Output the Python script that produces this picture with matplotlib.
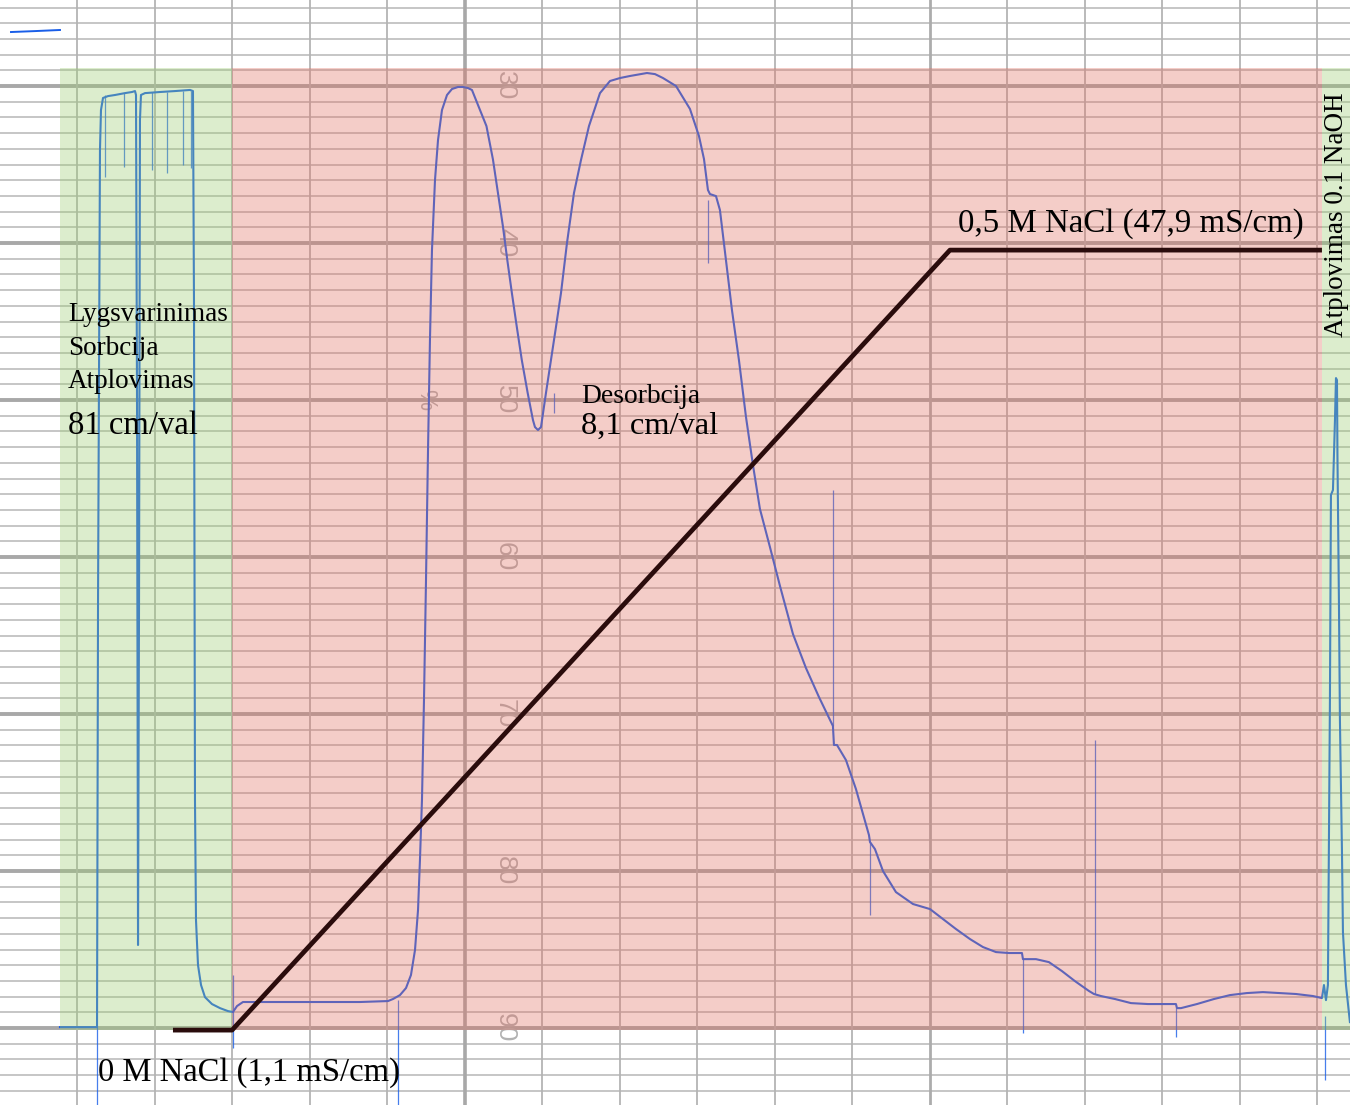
import matplotlib
matplotlib.use("Agg")
import matplotlib.pyplot as plt
from matplotlib.patches import Rectangle
from matplotlib.transforms import Affine2D

# Recorder paper: x in chart divisions, y in recorder percent (30 at top, 90 at bottom)
X_MAX = 17.42
Y_TOP, Y_BOTTOM = 24.52, 94.9

# UV trace (divisions, percent)
trace_x = [0.774, 1.252, 1.265, 1.290, 1.303, 1.329, 1.394, 1.484, 1.613, 1.703,
           1.742, 1.755, 1.768, 1.781, 1.794, 1.806, 1.819, 1.871, 2.065, 2.258,
           2.452, 2.490, 2.503, 2.516, 2.529, 2.555, 2.594, 2.645, 2.735, 2.839,
           2.942, 3.006, 3.058, 3.135, 3.871, 4.645, 5.006, 5.071, 5.161, 5.239,
           5.303, 5.355, 5.394, 5.419, 5.445, 5.471, 5.497, 5.523, 5.548, 5.574,
           5.613, 5.652, 5.703, 5.768, 5.832, 5.910, 5.974, 6.039, 6.090, 6.168,
           6.277, 6.361, 6.426, 6.490, 6.546, 6.605, 6.668, 6.733, 6.809, 6.877,
           6.903, 6.942, 6.981, 7.045, 7.110, 7.174, 7.239, 7.316, 7.406, 7.497,
           7.600, 7.742, 7.871, 8.000, 8.129, 8.348, 8.452, 8.555, 8.723, 8.903,
           9.019, 9.084, 9.135, 9.161, 9.239, 9.290, 9.368, 9.445, 9.535, 9.626,
           9.716, 9.806, 9.935, 10.065, 10.232, 10.400, 10.568, 10.748, 10.761, 10.800,
           10.916, 11.045, 11.213, 11.226, 11.290, 11.394, 11.561, 11.781, 12.000, 12.168,
           12.335, 12.516, 12.684, 12.852, 13.019, 13.187, 13.200, 13.368, 13.535, 13.703,
           13.871, 14.052, 14.116, 14.206, 14.387, 14.594, 14.813, 15.174, 15.187, 15.239,
           15.445, 15.665, 15.871, 16.090, 16.297, 16.516, 16.723, 16.942, 17.058, 17.084,
           17.110, 17.135, 17.161, 17.174, 17.200, 17.226, 17.239, 17.252, 17.258, 17.277,
           17.290, 17.316, 17.329, 17.368, 17.419]
trace_y = [89.94, 89.94, 62.74, 34.08, 31.53, 30.76, 30.64, 30.57, 30.45, 30.38,
           30.32, 30.57, 50.00, 84.71, 62.74, 32.17, 30.57, 30.45, 30.38, 30.32,
           30.25, 30.32, 43.63, 75.48, 83.12, 85.99, 87.26, 88.03, 88.47, 88.73,
           88.92, 88.98, 88.60, 88.34, 88.34, 88.34, 88.28, 88.15, 87.90, 87.45,
           86.62, 85.03, 82.48, 79.30, 75.48, 69.11, 61.46, 53.18, 46.18, 40.45,
           35.99, 33.44, 31.53, 30.57, 30.19, 30.06, 30.06, 30.13, 30.25, 31.21,
           32.55, 34.68, 36.82, 38.95, 41.08, 43.18, 45.32, 47.45, 49.55, 51.27,
           51.72, 51.91, 51.72, 49.55, 47.45, 45.35, 43.18, 40.00, 36.82, 34.71,
           32.55, 30.45, 29.68, 29.49, 29.36, 29.17, 29.24, 29.49, 30.00, 31.46,
           33.18, 34.65, 36.62, 36.88, 37.01, 37.90, 41.08, 44.27, 47.45, 51.08,
           54.14, 56.94, 59.36, 61.85, 64.90, 67.07, 68.92, 70.76, 71.97, 71.97,
           72.93, 74.78, 77.71, 78.15, 78.60, 80.00, 81.34, 82.10, 82.42, 83.06,
           83.69, 84.33, 84.84, 85.16, 85.22, 85.22, 85.61, 85.61, 85.80, 86.37,
           87.01, 87.64, 87.83, 87.96, 88.15, 88.41, 88.47, 88.47, 88.73, 88.73,
           88.47, 88.15, 87.90, 87.77, 87.71, 87.77, 87.83, 87.96, 88.09, 87.26,
           88.22, 87.26, 69.11, 56.05, 55.73, 51.27, 48.60, 48.73, 53.50, 62.74,
           70.38, 78.66, 83.89, 87.26, 89.62]

# Pen marker ticks (division, top percent, bottom percent)
spike_x = [1.355, 1.600, 1.961, 2.155, 2.361, 2.465, 3.006, 7.148, 9.135,
           10.748, 11.226, 13.200, 14.129, 15.174, 1.252, 5.135, 17.097]
spike_top = [30.57, 30.45, 30.38, 30.38, 30.32, 30.32, 86.62, 49.55, 37.26,
             55.73, 78.15, 85.61, 71.66, 88.73, 89.94, 88.22, 89.24]
spike_bottom = [35.80, 35.16, 35.35, 35.54, 35.03, 35.22, 91.27, 50.83, 41.27,
                70.76, 82.80, 90.32, 87.83, 90.57, 94.90, 94.90, 93.31]

# Pen test stroke at the top left
pen_x = [0.142, 0.452, 0.774]
pen_y = [26.56, 26.50, 26.43]

# NaCl gradient (divisions, mol/L)
ramp_x = [2.232, 2.994, 12.258, 17.058]
ramp_conc = [0.0, 0.0, 0.5, 0.5]
CONC_ZERO_LEVEL = 90.13      # recorder percent at 0 M
CONC_SCALE = -99.36          # recorder percent per mol/L

# Printed scale numbers on the paper
paper_values = [30, 40, 50, 60, 70, 80, 90]
paper_label_x = 6.516

# Process phases (division spans)
phase_edges = [0.774, 2.994, 17.058, X_MAX + 0.2]
phase_top, phase_bottom = 28.85, 90.13

BLUE_INK = "#195ee8"
GREEN_TINT = "#9bce70"
RED_TINT = "#e27062"
TINT_ALPHA = 0.35

fig = plt.figure(figsize=(13.5, 11.05), dpi=100)
ax = fig.add_axes([0, 0, 1, 1])
ax.set_xlim(0, X_MAX)
ax.set_ylim(Y_BOTTOM, Y_TOP)
ax.axis("off")

# chart paper grid
for v in range(25, 95):
    thick = v % 10 == 0
    ax.axhline(v, color="#a8a8a8" if thick else "#bcbcbc",
               lw=2.8 if thick else 1.2, zorder=1)
for d in range(1, 18):
    if d == 6:
        lw, col = 2.6, "#a8a8a8"
    elif d == 12:
        lw, col = 2.0, "#acacac"
    else:
        lw, col = 1.3, "#b4b4b4"
    ax.axvline(d, color=col, lw=lw, zorder=1)

for v in paper_values:
    ax.text(paper_label_x, v, str(v), rotation=-90, ha="center", va="center",
            fontsize=19, family="Liberation Sans", color="#b2b2b2", zorder=1.5)
ax.text(5.484, 50.0, "%", rotation=-90, ha="center", va="center",
        fontsize=17, family="Liberation Sans", color="#b2b2b2", zorder=1.5)

# recorder trace and marker ticks
ax.plot(trace_x, trace_y, color=BLUE_INK, lw=1.5, zorder=2, solid_joinstyle="round")
ax.vlines(spike_x, spike_top, spike_bottom, color=BLUE_INK, lw=0.9, alpha=0.8, zorder=2)
ax.plot(pen_x, pen_y, color=BLUE_INK, lw=1.4, zorder=2)

# phase shading
phase_colors = [GREEN_TINT, RED_TINT, GREEN_TINT]
for left, right, c in zip(phase_edges[:-1], phase_edges[1:], phase_colors):
    ax.add_patch(Rectangle((left, phase_top), right - left, phase_bottom - phase_top,
                           facecolor=c, alpha=TINT_ALPHA, lw=0, zorder=3))

# salt gradient drawn in concentration units
conc_transform = Affine2D().scale(1, CONC_SCALE).translate(0, CONC_ZERO_LEVEL) + ax.transData
ax.plot(ramp_x, ramp_conc, color="#2a0c0c", lw=3.4, transform=conc_transform,
        zorder=4, solid_capstyle="butt")

serif = "Liberation Serif"
ax.text(0.877, 44.97, "Lygsvarinimas", fontsize=19.5, family=serif, va="baseline", zorder=5)
ax.text(0.877, 47.13, "Sorbcija", fontsize=19.5, family=serif, va="baseline", zorder=5)
ax.text(0.877, 49.24, "Atplovimas", fontsize=19.5, family=serif, va="baseline", zorder=5)
ax.text(0.877, 52.17, "81 cm/val", fontsize=23.5, family=serif, va="baseline", zorder=5)
ax.text(7.497, 50.19, "Desorbcija", fontsize=19.8, family=serif, va="baseline", zorder=5)
ax.text(7.497, 52.17, "8,1 cm/val", fontsize=23.4, family=serif, va="baseline", zorder=5)
ax.text(12.36, 39.30, "0,5 M NaCl (47,9 mS/cm)", fontsize=23.7, family=serif,
        va="baseline", zorder=5)
ax.text(1.265, 93.38, "0 M NaCl (1,1 mS/cm)", fontsize=23.5, family=serif,
        va="baseline", zorder=5)
ax.text(17.325, 38.22, "Atplovimas 0.1 NaOH", fontsize=19.5, family=serif,
        rotation=90, rotation_mode="anchor", ha="center", va="baseline", zorder=5)

fig.savefig("out.png", dpi=100)
